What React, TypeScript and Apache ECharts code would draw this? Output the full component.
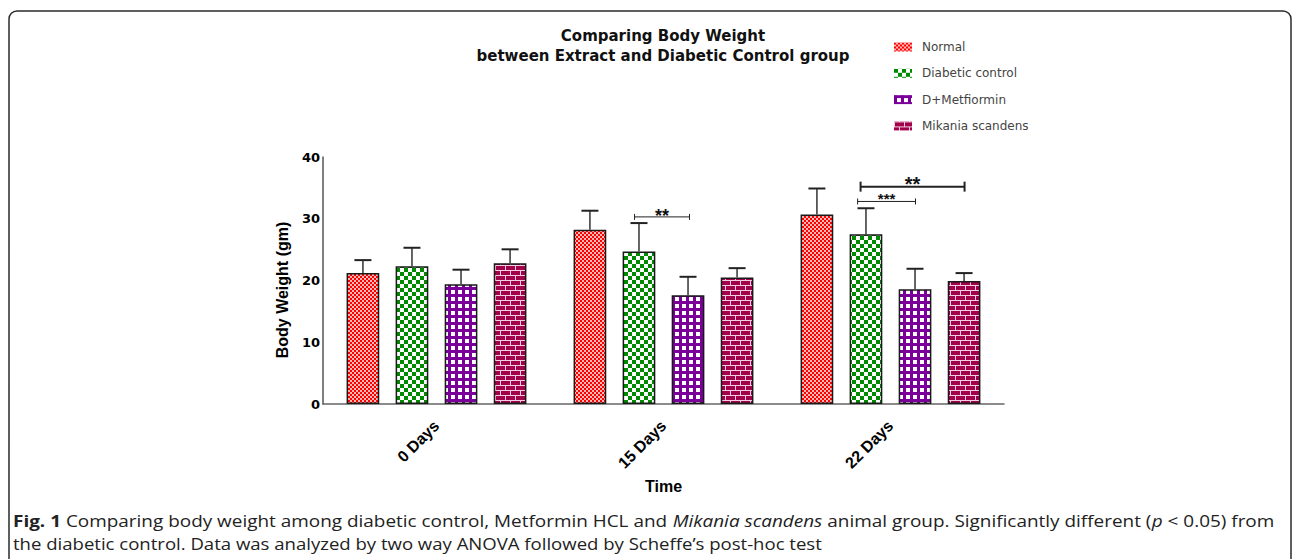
import React, { useEffect, useRef } from "react";
import * as echarts from "echarts";

// ---------------- data ----------------
const categories = ["0 Days", "15 Days", "22 Days"];
const seriesNames = ["Normal", "Diabetic control", "D+Metfiormin", "Mikania scandens"];
const normalMean = [21.2, 28.2, 30.7];
const normalSD = [2.1, 3.1, 4.2];
const diabeticMean = [22.3, 24.7, 27.5];
const diabeticSD = [3.0, 4.6, 4.2];
const metforminMean = [19.4, 17.6, 18.6];
const metforminSD = [2.35, 3.0, 3.3];
const mikaniaMean = [22.8, 20.5, 19.9];
const mikaniaSD = [2.25, 1.5, 1.3];
const yMin = 0;
const yMax = 40;
const yInterval = 10;
// significance brackets: category index, from bar slot, to bar slot, value (gm), label, thick
const bracketCategory = [1, 2, 2];
const bracketFrom = [0.91, 0.83, 0.89];
const bracketTo = [2.03, 2.01, 3.01];
const bracketValue = [30.3, 32.8, 35.2];
const bracketLabel = ["**", "***", "**"];
const bracketThick = [0, 0, 1];

const titleLines = ["Comparing Body Weight", "between Extract and Diabetic Control group"];
const captionLine1 =
  "{b|Fig. 1} Comparing body weight among diabetic control, Metformin HCL and {i|Mikania scandens} animal group. Significantly different ({i|p} < 0.05) from";
const captionLine2 = "the diabetic control. Data was analyzed by two way ANOVA followed by Scheffe\u2019s post-hoc test";

const BAR_W = 32.7;
const SLOT = BAR_W * 1.5;

function tile(w: number, h: number, draw: (ctx: CanvasRenderingContext2D) => void) {
  const c = document.createElement("canvas");
  c.width = w;
  c.height = h;
  const ctx = c.getContext("2d")!;
  draw(ctx);
  return { image: c, repeat: "repeat", imageWidth: w, imageHeight: h } as any;
}

function makePatterns() {
  const red = tile(4, 4, (ctx) => {
    ctx.fillStyle = "#ffb8b8";
    ctx.fillRect(0, 0, 4, 4);
    ctx.fillStyle = "#ff0000";
    ctx.fillRect(0, 0, 2, 2);
    ctx.fillRect(2, 2, 2, 2);
  });
  const green = tile(8, 8, (ctx) => {
    ctx.fillStyle = "#ffffff";
    ctx.fillRect(0, 0, 8, 8);
    ctx.fillStyle = "#008a00";
    ctx.fillRect(0, 0, 4, 4);
    ctx.fillRect(4, 4, 4, 4);
  });
  const purple = tile(7, 7, (ctx) => {
    ctx.fillStyle = "#7a0099";
    ctx.fillRect(0, 0, 7, 7);
    ctx.fillStyle = "#ffffff";
    ctx.fillRect(3, 3, 4, 4);
  });
  const brick = tile(10, 10, (ctx) => {
    ctx.fillStyle = "#a3004c";
    ctx.fillRect(0, 0, 10, 10);
    ctx.fillStyle = "#f2cfe0";
    ctx.fillRect(0, 0, 10, 1);
    ctx.fillRect(0, 5, 10, 1);
    ctx.fillRect(0, 1, 1, 4);
    ctx.fillRect(5, 6, 1, 4);
  });
  return [red, green, purple, brick];
}

export default function App() {
  const ref = useRef<HTMLDivElement>(null);
  useEffect(() => {
    if (!ref.current) return;
    const chart = echarts.init(ref.current, null, { renderer: "svg" });
    const patterns = makePatterns();
    const means = [normalMean, diabeticMean, metforminMean, mikaniaMean];
    const sds = [normalSD, diabeticSD, metforminSD, mikaniaSD];

    const barSeries = seriesNames.map((name, i) => ({
      name,
      type: "bar",
      data: means[i],
      barWidth: BAR_W,
      barGap: "50%",
      itemStyle: { color: patterns[i], borderColor: "#1a1a1a", borderWidth: 1.5 },
      z: 2,
    }));

    const errData: number[][] = [];
    means.forEach((m, si) => m.forEach((v, ci) => errData.push([ci, si, v, sds[si][ci]])));

    const bracketData = bracketCategory.map((c, i) => [c, bracketFrom[i], bracketTo[i], bracketValue[i], bracketThick[i]]);

    const capRich = {
      b: { fontWeight: "bold", fontFamily: "Open Sans", fontSize: 16, fill: "#222" },
      i: { fontStyle: "italic", fontFamily: "Open Sans", fontSize: 16, fill: "#222" },
    };

    const option: any = {
      animation: false,
      grid: { left: 323, right: 288, top: 157, bottom: 155 },
      legend: {
        data: seriesNames,
        orient: "vertical",
        left: 894,
        top: 40,
        padding: 0,
        itemWidth: 18,
        itemHeight: 9,
        itemGap: 12.3,
        icon: "rect",
        textStyle: { fontFamily: "DejaVu Sans", fontSize: 12, color: "#444", lineHeight: 14, padding: [0, 0, 0, 5] },
        itemStyle: { borderWidth: 0 },
      },
      xAxis: {
        type: "category",
        data: categories,
        axisLine: { lineStyle: { color: "#666", width: 1.5 } },
        axisTick: { alignWithLabel: true, length: 5, lineStyle: { color: "#555" } },
        axisLabel: {
          rotate: 45,
          margin: 19,
          fontFamily: "Liberation Sans",
          fontWeight: "bold",
          fontSize: 16,
          color: "#000",
        },
        name: "Time",
        nameLocation: "middle",
        nameGap: 74,
        nameTextStyle: { fontFamily: "Liberation Sans", fontWeight: "bold", fontSize: 16, color: "#000" },
      },
      yAxis: {
        type: "value",
        min: yMin,
        max: yMax,
        interval: yInterval,
        axisLine: { show: true, lineStyle: { color: "#555", width: 1.5 } },
        axisTick: { show: false },
        splitLine: { show: false },
        axisLabel: { margin: 3, fontFamily: "DejaVu Sans", fontWeight: "bold", fontSize: 13, color: "#000" },
        name: "Body Weight (gm)",
        nameLocation: "middle",
        nameRotate: 90,
        nameGap: 33,
        nameTextStyle: {
          fontFamily: "Liberation Sans",
          fontWeight: "bold",
          fontSize: 16,
          color: "#000",
          padding: [0, 19, 0, 0],
        },
      },
      series: [
        ...barSeries,
        {
          name: "errorbars",
          type: "custom",
          data: errData,
          encode: { x: 0, y: 2 },
          z: 3,
          renderItem: (params: any, api: any) => {
            const ci = api.value(0);
            const si = api.value(1);
            const m = api.value(2);
            const sd = api.value(3);
            const base = api.coord([ci, m]);
            const top = api.coord([ci, m + sd]);
            const x = base[0] + (si - 1.5) * SLOT;
            return {
              type: "group",
              children: [
                { type: "line", shape: { x1: x, y1: base[1], x2: x, y2: top[1] }, style: { stroke: "#333", lineWidth: 1.5 } },
                { type: "line", shape: { x1: x - 8.5, y1: top[1], x2: x + 8.5, y2: top[1] }, style: { stroke: "#222", lineWidth: 2 } },
              ],
            };
          },
        },
        {
          name: "brackets",
          type: "custom",
          data: bracketData,
          encode: { x: 0, y: 3 },
          z: 4,
          renderItem: (params: any, api: any) => {
            const ci = api.value(0);
            const f = api.value(1);
            const t = api.value(2);
            const v = api.value(3);
            const thick = api.value(4) === 1;
            const c = api.coord([ci, v]);
            const x1 = c[0] + (f - 1.5) * SLOT;
            const x2 = c[0] + (t - 1.5) * SLOT;
            const y = c[1];
            const th = thick ? 5 : 3;
            const lw = thick ? 2 : 1;
            const label = bracketLabel[params.dataIndex];
            const triple = label.length === 3;
            const fs = thick ? 20 : triple ? 15 : 18;
            const dy = thick ? -3 : triple ? -2.5 : -1;
            return {
              type: "group",
              children: [
                { type: "line", shape: { x1, y1: y, x2, y2: y }, style: { stroke: "#222", lineWidth: lw } },
                { type: "line", shape: { x1, y1: y - th, x2: x1, y2: y + th }, style: { stroke: "#222", lineWidth: lw } },
                { type: "line", shape: { x1: x2, y1: y - th, x2, y2: y + th }, style: { stroke: "#222", lineWidth: lw } },
                {
                  type: "text",
                  x: (x1 + x2) / 2,
                  y: y + dy,
                  style: {
                    text: label,
                    textAlign: "center",
                    textVerticalAlign: "middle",
                    fontFamily: "Liberation Sans",
                    fontWeight: "bold",
                    fontSize: fs,
                    fill: "#111",
                  },
                },
              ],
            };
          },
        },
      ],
      graphic: [
        {
          type: "rect",
          shape: { x: 9, y: 11, width: 1282, height: 700, r: 8 },
          style: { fill: "none", stroke: "#2b2b2b", lineWidth: 1.5 },
          silent: true,
        },
        {
          type: "text",
          x: 663,
          y: 46,
          style: {
            text: titleLines.join("\n"),
            textAlign: "center",
            textVerticalAlign: "middle",
            fontFamily: "DejaVu Sans",
            fontWeight: "bold",
            fontSize: 15,
            lineHeight: 19.5,
            fill: "#111",
          },
        },
        {
          type: "text",
          x: 13,
          y: 521,
          scaleX: 1.184,
          style: {
            text: captionLine1,
            textVerticalAlign: "middle",
            fontFamily: "Open Sans",
            fontSize: 16,
            fill: "#222",
            rich: capRich,
          },
        },
        {
          type: "text",
          x: 13,
          y: 544,
          scaleX: 1.16,
          style: {
            text: captionLine2,
            textVerticalAlign: "middle",
            fontFamily: "Open Sans",
            fontSize: 16,
            fill: "#222",
          },
        },
      ],
    };
    chart.setOption(option);
    return () => chart.dispose();
  }, []);
  return (
    <div
      ref={ref}
      style={{ position: "absolute", left: 0, top: 0, width: 1292, height: 559, background: "#fff" }}
    />
  );
}
